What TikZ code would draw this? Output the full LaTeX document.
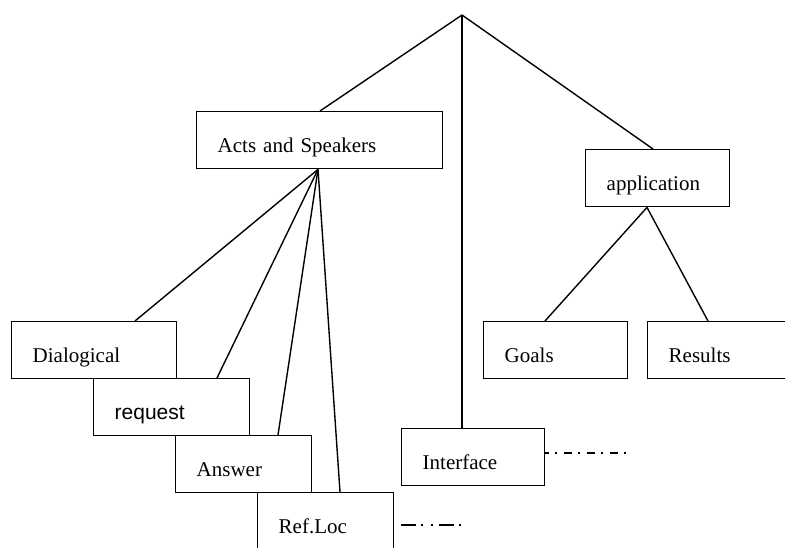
\documentclass[tikz,border=0pt]{standalone}
\usepackage{fontspec}
\setmainfont{Liberation Serif}
\newfontfamily\arialfont{Liberation Sans}
\usetikzlibrary{calc}
\begin{document}
\begin{tikzpicture}[x=1pt,y=-1pt,
  box/.style={draw, line width=1.4pt, rectangle, anchor=north west,
    inner xsep=21pt, inner ysep=0pt, text height=41pt, text depth=16pt,
    align=left, font=\fontsize{21}{25}\selectfont},
  conn/.style={line width=1.4pt}]
\useasboundingbox (0,0) rectangle (785,547);
\clip (0,0) rectangle (785,547);
\coordinate (apex) at (462,15);
\node[box, text width=204pt] (acts) at (196,111) {Acts and Speakers};
\node[box, text width=102pt] (app) at (585,149) {application};
\node[box, text width=102pt] (goals) at (483,321) {Goals};
\node[box, text width=100pt] (results) at (647,321) {Results};
\node[box, text width=101pt] (interface) at (401,428) {Interface};
\node[box, text width=123pt] (dial) at (11,321) {Dialogical};
\node[box, text width=114pt, font=\arialfont\fontsize{21}{25}\selectfont] (request) at (93,378) {request};
\node[box, text width=94pt] (answer) at (175,435) {Answer};
\node[box, text width=94pt] (refloc) at (257,492) {Ref.Loc};
% connectors
\draw[conn] (apex) -- ($(acts.north west)+(124,0)$);
\draw[conn] (apex) -- (interface.north -| apex);
\draw[conn] (apex) -- ($(app.north west)+(68,0)$);
\coordinate (actsb) at ($(acts.south west)+(122,0)$);
\draw[conn] (actsb) -- ($(dial.north west)+(124,0)$);
\draw[conn] (actsb) -- ($(request.north west)+(124,0)$);
\draw[conn] (actsb) -- ($(answer.north west)+(103,0)$);
\draw[conn] (actsb) -- ($(refloc.north west)+(83,0)$);
\coordinate (appb) at ($(app.south west)+(62,0)$);
\draw[conn] (appb) -- ($(goals.north west)+(62,0)$);
\draw[conn] (appb) -- ($(results.north west)+(61,0)$);
% dash-dot tails
\coordinate (ifend) at (626,453);
\draw[line width=1.2pt, dash pattern=on 8pt off 6pt on 2pt off 7pt, dash phase=4pt]
  ($(interface.north east)+(0,25)$) -- (ifend);
\coordinate (rlstart) at (401,525);
\coordinate (rlend) at (463,525);
\draw[line width=1.2pt, dash pattern=on 15pt off 5pt on 2pt off 8pt on 2pt off 6pt]
  (rlstart) -- (rlend);
\end{tikzpicture}
\end{document}
